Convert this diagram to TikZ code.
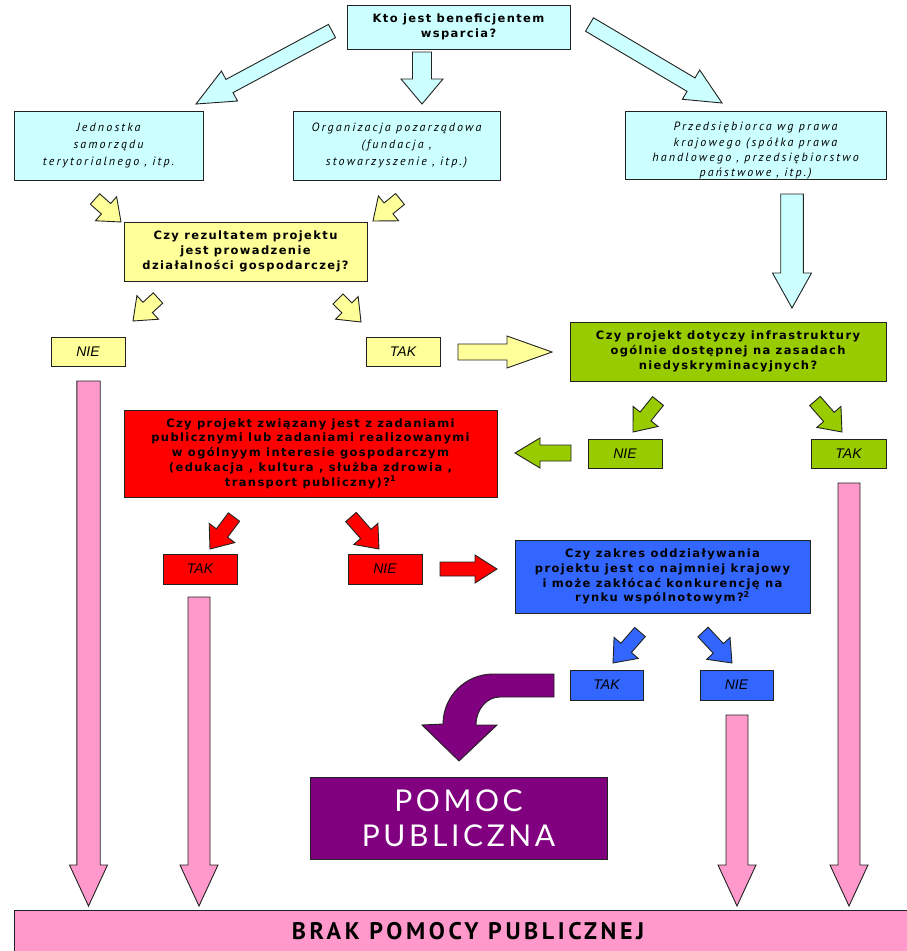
\documentclass[tikz,border=0pt]{standalone}
\usepackage{fontspec}
\setmainfont{DejaVu Sans}
\newfontfamily\qfont[LetterSpace=12]{DejaVu Sans}
\newfontfamily\itfont[LetterSpace=18]{PT Sans}
\newfontfamily\tkfont{Liberation Sans}
\newfontfamily\condfont[LetterSpace=15]{PT Sans}
\newfontfamily\bigfont[LetterSpace=12]{Lato}
\usetikzlibrary{calc}
\definecolor{cyanf}{HTML}{CCFFFF}
\definecolor{yelf}{HTML}{FFFF99}
\definecolor{grnf}{HTML}{99CC00}
\definecolor{redf}{HTML}{FF0000}
\definecolor{bluf}{HTML}{3366FF}
\definecolor{purf}{HTML}{800080}
\definecolor{pinkf}{HTML}{FF99CC}
\definecolor{edgec}{HTML}{222222}
\newcommand{\blkarrow}[6][]{%
  \coordinate (aT) at (#2);
  \coordinate (aP) at (#3);
  \coordinate (aN) at ($(aP)!#6!(aT)$);
  \draw[arr,#1] ($(aT)!#4!90:(aP)$) -- ($(aN)!#4!90:(aP)$) -- ($(aN)!#5!90:(aP)$)
    -- (aP) -- ($(aN)!#5!-90:(aP)$) -- ($(aN)!#4!-90:(aP)$) -- ($(aT)!#4!-90:(aP)$) -- cycle;
}
\tikzset{
  box/.style={draw=edgec, line width=0.9pt, inner sep=0pt, align=center, text=black},
  qbox/.style={box, font=\qfont\bfseries\fontsize{11.5}{14.8}\selectfont},
  cbox/.style={box, fill=cyanf, font=\itfont\itshape\fontsize{12}{17}\selectfont},
  tkbox/.style={box, minimum width=74pt, minimum height=29pt, font=\tkfont\itshape\fontsize{14}{15}\selectfont},
  arr/.style={draw=edgec, line width=0.9pt, line join=miter},
}
\begin{document}
\begin{tikzpicture}[x=1pt,y=-1pt]
\useasboundingbox (0,0) rectangle (906,951);
\fill[white] (0,0) rectangle (906,951);

% ---- cyan arrows from top
\blkarrow[fill=cyanf]{332,31}{196,104}{7.5pt}{17pt}{38pt}
\blkarrow[fill=cyanf]{422,52}{422,104}{9.5pt}{21pt}{25pt}
\blkarrow[fill=cyanf]{589.5,24.5}{722,103}{7.8pt}{17pt}{36pt}
\blkarrow[fill=cyanf]{792,194}{792,308}{11.3pt}{19.5pt}{35pt}

% ---- yellow arrows
\blkarrow[fill=yelf]{95,199}{121,222}{7pt}{16pt}{20pt}
\blkarrow[fill=yelf]{400,199}{373,221}{7pt}{16pt}{20pt}
\blkarrow[fill=yelf]{158,298}{133,321}{7pt}{16pt}{20pt}
\blkarrow[fill=yelf]{338,299}{361,322}{7pt}{16pt}{20pt}
\blkarrow[fill=yelf]{458,352}{552,352}{8pt}{16pt}{45pt}

% ---- green arrows
\blkarrow[fill=grnf]{658,401}{633,432}{7pt}{16pt}{20pt}
\blkarrow[fill=grnf]{815,401}{842,432}{7pt}{16pt}{20pt}
\blkarrow[fill=grnf]{571,453}{515,453}{8pt}{15pt}{25pt}

% ---- red arrows
\blkarrow[fill=redf]{234,517}{210,549}{7pt}{16pt}{20pt}
\blkarrow[fill=redf]{351,517}{379,549}{7pt}{16pt}{20pt}
\blkarrow[fill=redf]{440,569}{497,569}{7pt}{14pt}{22pt}

% ---- blue arrows
\blkarrow[fill=bluf]{640,632}{613,663}{7pt}{16pt}{20pt}
\blkarrow[fill=bluf]{703,632}{732,663}{7pt}{16pt}{20pt}

% ---- pink arrows
\blkarrow[fill=pinkf]{88.5,381}{88.5,906}{11.7pt}{19pt}{41pt}
\blkarrow[fill=pinkf]{199,597}{199,906}{11pt}{19pt}{41pt}
\blkarrow[fill=pinkf]{737,715}{737,906}{11pt}{19pt}{41pt}
\blkarrow[fill=pinkf]{849,483}{849,906}{11pt}{19pt}{41pt}

% ---- purple curved arrow
\draw[arr, fill=purf] (554,674) -- (493,674)
  .. controls (465.4,674) and (443,696.4) .. (443,724)
  -- (422,725) -- (459,761) -- (497,725) -- (476,725)
  .. controls (476,709.5) and (486.7,697) .. (500,697)
  -- (554,697) -- cycle;

% ---- boxes
\node[qbox, fill=cyanf, minimum width=223pt, minimum height=44pt,
  font=\qfont\bfseries\fontsize{11.5}{14.5}\selectfont] (top) at (458.5,27)
  {Kto jest beneficjentem\\wsparcia?};
\node[cbox, minimum width=189pt, minimum height=69pt] (c1) at (108.5,145.5)
  {Jednostka\\samorządu\\terytorialnego , itp.};
\node[cbox, minimum width=207pt, minimum height=69pt] (c2) at (396.5,145.5)
  {Organizacja pozarządowa\\(fundacja ,\\stowarzyszenie , itp.)};
\node[cbox, minimum width=261pt, minimum height=68pt,
  label={[font=\itfont\itshape\fontsize{12}{15.3}\selectfont, align=center, yshift=-6pt]center:{Przedsiębiorca wg prawa\\krajowego (spółka prawa\\handlowego , przedsiębiorstwo\\państwowe , itp.)}}] (c3) at (755.5,145) {};

\node[qbox, fill=yelf, minimum width=243pt, minimum height=59pt] (yq) at (245.5,251.5)
  {Czy rezultatem projektu\\jest prowadzenie\\działalności gospodarczej?};
\node[tkbox, fill=yelf] (ynie) at (88,351.5) {NIE};
\node[tkbox, fill=yelf] (ytak) at (403,351.5) {TAK};

\node[qbox, fill=grnf, minimum width=316pt, minimum height=59pt] (gq) at (728,351.5)
  {Czy projekt dotyczy infrastruktury\\ogólnie dostępnej na zasadach\\niedyskryminacyjnych?};
\node[tkbox, fill=grnf] (gnie) at (625,453.5) {NIE};
\node[tkbox, fill=grnf, minimum width=75pt] (gtak) at (848.5,453.5) {TAK};

\node[qbox, fill=redf, minimum width=373pt, minimum height=87pt] (rq) at (310.5,453.5)
  {Czy projekt związany jest z zadaniami\\publicznymi lub zadaniami realizowanymi\\w ogólnyym interesie gospodarczym\\(edukacja , kultura , służba zdrowia ,\\transport publiczny)?\textsuperscript{1}};
\node[tkbox, fill=redf, minimum height=30pt] (rtak) at (200,569) {TAK};
\node[tkbox, fill=redf, minimum height=30pt] (rnie) at (385,569) {NIE};

\node[qbox, fill=bluf, minimum width=295pt, minimum height=73pt] (bq) at (662.5,576.5)
  {Czy zakres oddziaływania\\projektu jest co najmniej krajowy\\i może zakłócać konkurencję na\\rynku wspólnotowym?\textsuperscript{2}};
\node[tkbox, fill=bluf, minimum width=73pt, minimum height=30pt] (btak) at (606.5,685) {TAK};
\node[tkbox, fill=bluf, minimum width=73pt, minimum height=30pt] (bnie) at (736.5,685) {NIE};

\node[box, fill=purf, text=white, minimum width=297pt, minimum height=82pt,
  font=\bigfont\fontsize{30}{35}\selectfont] (pp) at (458.5,818) {POMOC\\PUBLICZNA};

\node[box, fill=pinkf, minimum width=908pt, minimum height=42pt,
  font=\condfont\bfseries\fontsize{24}{26}\selectfont] (brak) at (468,931) {BRAK POMOCY PUBLICZNEJ};
\end{tikzpicture}
\end{document}
